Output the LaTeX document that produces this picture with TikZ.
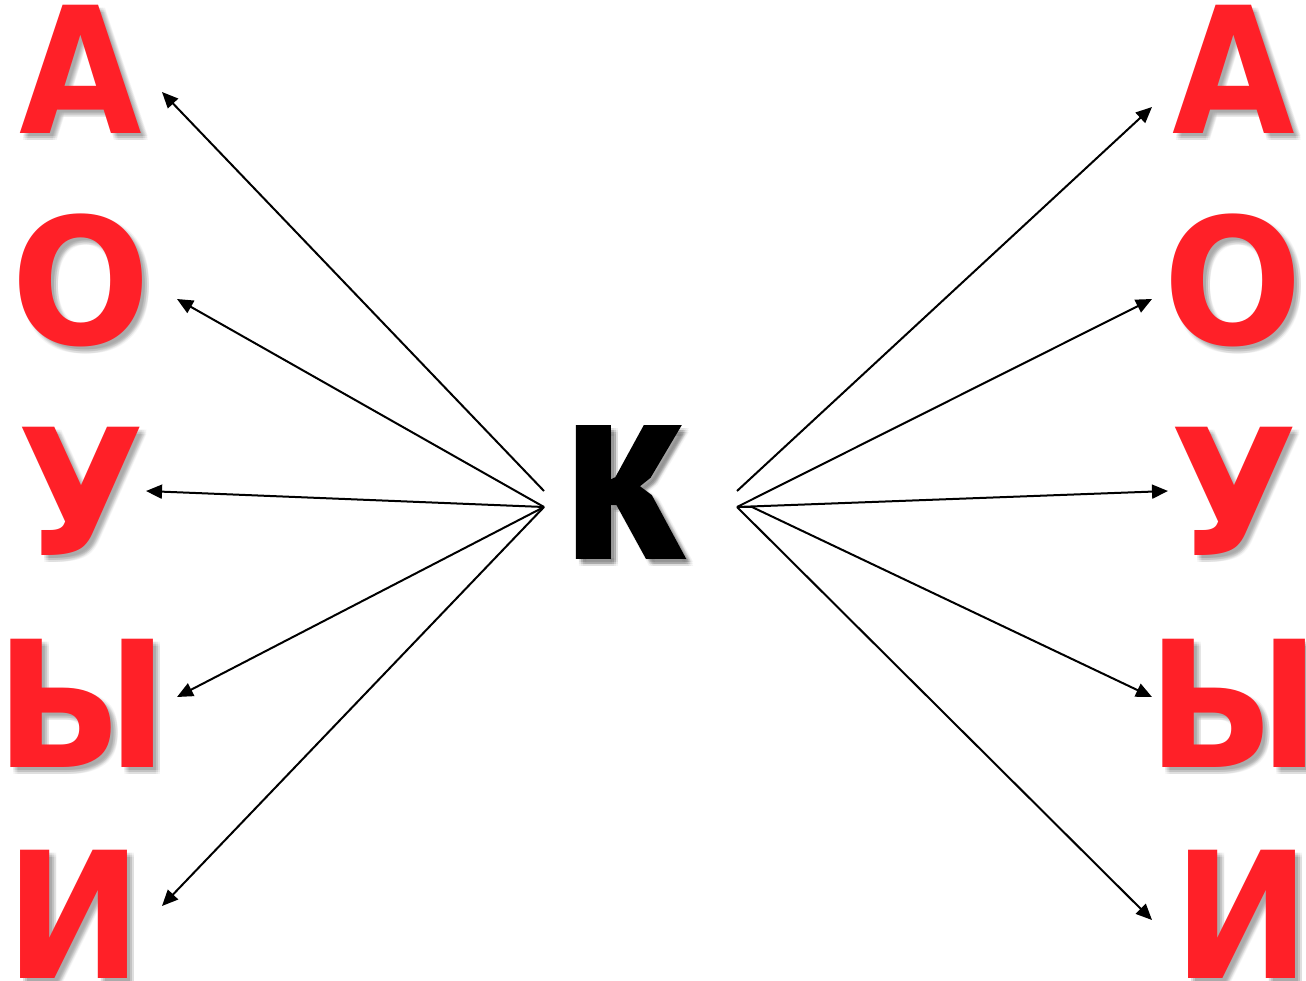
\documentclass[tikz,border=0pt]{standalone}
\usepackage{fontspec}
\setmainfont{DejaVu Sans}
\newfontfamily\kfont[FakeBold=1.5]{PT Sans Bold}
\usetikzlibrary{arrows.meta}
\definecolor{letred}{RGB}{255,32,40}
\tikzset{
  letter/.style={font=\bfseries\fontsize{176}{176}\selectfont, text=letred, inner sep=0pt, anchor=base},
  bigk/.style={font=\kfont\fontsize{260}{260}\selectfont, text=black, inner sep=0pt, anchor=base},
  arr/.style={line width=2pt, -{Triangle[length=16pt,width=14pt]}},
}
\newcommand\shletter[6]{% style, name, x, y, xscale, text
  \foreach \dx in {3,5,7} {\foreach \dy in {3,5,7} {\node[#1, text=black, opacity=0.045] at (#3+\dx,#4+\dy) {\scalebox{#5}[1]{#6}};}}
  \node[#1] (#2) at (#3,#4) {\scalebox{#5}[1]{#6}};
}
\begin{document}
\begin{tikzpicture}[x=1pt,y=-1pt]
\useasboundingbox (0,0) rectangle (1306,980);
\shletter{letter}{la}{81}{133}{0.9}{А}
\shletter{letter}{lo}{81}{344}{0.93}{О}
\shletter{letter}{lu}{81}{555}{0.94}{У}
\shletter{letter}{ly}{82}{767}{0.95}{Ы}
\shletter{letter}{li}{74}{978}{0.93}{И}
\shletter{letter}{ra}{1234}{133}{0.9}{А}
\shletter{letter}{ro}{1233}{344}{0.93}{О}
\shletter{letter}{ru}{1234}{555}{0.94}{У}
\shletter{letter}{ry}{1234}{767}{0.95}{Ы}
\shletter{letter}{ri}{1242}{978}{0.93}{И}
\shletter{bigk}{k}{623}{557}{0.93}{к}
\coordinate (L0) at (544,491);
\coordinate (L1) at (544,507);
\coordinate (R0) at (737,491);
\coordinate (R1) at (737,507);
\coordinate (R2) at (752,507);
\coordinate (ea) at (162,92);
\coordinate (eo) at (177,299);
\coordinate (eu) at (146,491);
\coordinate (ey) at (177,697);
\coordinate (ei) at (162,906);
\coordinate (fa) at (1152,107);
\coordinate (fo) at (1152,299);
\coordinate (fu) at (1168,491);
\coordinate (fy) at (1152,697);
\coordinate (fi) at (1152,920);
\draw[arr] (L0) -- (ea);
\draw[arr] (L1) -- (eo);
\draw[arr] (L1) -- (eu);
\draw[arr] (L1) -- (ey);
\draw[arr] (L1) -- (ei);
\draw[arr] (R0) -- (fa);
\draw[arr] (R1) -- (fo);
\draw[arr] (R1) -- (fu);
\draw[arr] (R2) -- (fy);
\draw[arr] (R1) -- (fi);
\draw[line width=2pt] (R1) -- (R2);
\end{tikzpicture}
\end{document}
